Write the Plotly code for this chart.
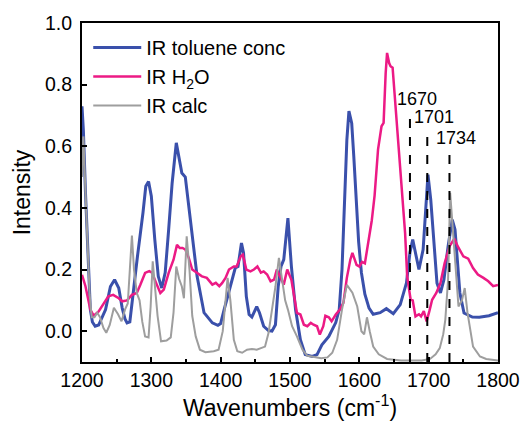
import plotly.graph_objects as go

# ---------------- data ----------------
tol_x = [1200, 1202, 1205, 1207, 1210, 1212, 1215, 1219, 1224, 1229, 1234, 1241, 1247, 1253, 1258, 1262, 1265, 1269,
         1273, 1280, 1288, 1292, 1296, 1300, 1305, 1310, 1315, 1320, 1325, 1330, 1336, 1340, 1344, 1349, 1354, 1359,
         1366, 1376, 1388, 1396, 1400, 1405, 1412, 1417, 1421, 1425, 1430, 1433, 1437, 1441, 1445, 1452, 1456, 1462,
         1469, 1474, 1479, 1483, 1487, 1491, 1497, 1502, 1508, 1515, 1522, 1532, 1539, 1546, 1556, 1566, 1571, 1575,
         1578, 1582, 1585, 1589, 1592, 1595, 1599, 1603, 1608, 1614, 1620, 1630, 1639, 1649, 1659, 1668, 1673, 1677,
         1682, 1686, 1692, 1696, 1699, 1703, 1708, 1712, 1717, 1722, 1728, 1734, 1738, 1741, 1745, 1751, 1763, 1773,
         1787, 1800]
tol_y = [0.73, 0.65, 0.45, 0.33, 0.15, 0.07, 0.03, 0.016, 0.02, 0.045, 0.07, 0.145, 0.167, 0.14, 0.075, 0.04, 0.027, 0.03,
         0.11, 0.243, 0.385, 0.47, 0.486, 0.438, 0.297, 0.178, 0.14, 0.19, 0.33, 0.48, 0.611, 0.567, 0.513, 0.50, 0.405, 0.297,
         0.178, 0.06, 0.027, 0.019, 0.025, 0.07, 0.13, 0.173, 0.205, 0.21, 0.286, 0.254, 0.113, 0.054, 0.046, 0.08, 0.06, 0.016,
         0.002, 0.0, 0.021, 0.145, 0.21, 0.232, 0.367, 0.21, 0.07, -0.028, -0.076, -0.082, -0.076, -0.044, -0.017, 0.028, 0.07, 0.2,
         0.4, 0.62, 0.714, 0.675, 0.567, 0.43, 0.29, 0.19, 0.12, 0.075, 0.055, 0.06, 0.073, 0.057, 0.086, 0.157, 0.255, 0.297,
         0.243, 0.2, 0.265, 0.405, 0.508, 0.427, 0.275, 0.156, 0.124, 0.167, 0.275, 0.362, 0.33, 0.232, 0.124, 0.059, 0.046, 0.045,
         0.05, 0.06]

h2o_x = [1200, 1205, 1212, 1217, 1224, 1231, 1238, 1245, 1253, 1258, 1265, 1272, 1279, 1284, 1291, 1297, 1301, 1307, 1313,
         1318, 1325, 1332, 1337, 1341, 1345, 1349, 1354, 1359, 1366, 1373, 1380, 1388, 1393, 1398, 1402, 1407, 1412, 1419,
         1423, 1429, 1432, 1437, 1443, 1448, 1453, 1458, 1462, 1467, 1472, 1477, 1481, 1486, 1491, 1496, 1502, 1506, 1510,
         1515, 1520, 1525, 1530, 1534, 1539, 1543, 1548, 1551, 1556, 1560, 1566, 1572, 1577, 1582, 1587, 1590, 1596, 1600,
         1604, 1608, 1613, 1618, 1622, 1627, 1632, 1635, 1638, 1640, 1643, 1645, 1648, 1651, 1656, 1661, 1666, 1669, 1674,
         1677, 1681, 1686, 1689, 1693, 1697, 1701, 1705, 1711, 1717, 1723, 1730, 1737, 1742, 1750, 1757, 1764, 1771, 1779,
         1786, 1793, 1800]
h2o_y = [0.183, 0.146, 0.07, 0.05, 0.064, 0.09, 0.113, 0.118, 0.107, 0.097, 0.1, 0.118, 0.124, 0.15, 0.189, 0.195, 0.19, 0.156, 0.124,
         0.135, 0.189, 0.232, 0.28, 0.27, 0.27, 0.265, 0.238, 0.2, 0.189, 0.178, 0.173, 0.151, 0.157, 0.146, 0.156, 0.173, 0.2, 0.21,
         0.21, 0.243, 0.248, 0.2, 0.194, 0.2, 0.21, 0.19, 0.194, 0.184, 0.162, 0.167, 0.2, 0.178, 0.151, 0.2, 0.167, 0.113, 0.059,
         0.054, 0.021, 0.016, 0.027, 0.021, 0.016, -0.011, 0.016, 0.05, 0.045, 0.032, 0.054, 0.07, 0.092, 0.173, 0.232, 0.254, 0.215, 0.21,
         0.225, 0.22, 0.286, 0.36, 0.44, 0.59, 0.665, 0.676, 0.838, 0.903, 0.87, 0.86, 0.855, 0.762, 0.62, 0.46, 0.319, 0.178, 0.102,
         0.1, 0.048, 0.055, 0.048, 0.065, 0.032, 0.065, 0.102, 0.124, 0.156, 0.22, 0.275, 0.3, 0.275, 0.243, 0.235, 0.205, 0.184, 0.173,
         0.162, 0.146, 0.15]

calc_x = [1200, 1202, 1205, 1208, 1211, 1214, 1218, 1222, 1226, 1231, 1235, 1240, 1243, 1246, 1252, 1257, 1262, 1266, 1269,
          1272, 1275, 1279, 1283, 1287, 1291, 1296, 1299, 1302, 1305, 1309, 1314, 1322, 1328, 1332, 1336, 1340, 1344, 1347,
          1351, 1355, 1359, 1364, 1370, 1378, 1390, 1397, 1403, 1407, 1410, 1414, 1419, 1424, 1431, 1438, 1445, 1452, 1457,
          1464, 1469, 1474, 1479, 1484, 1489, 1493, 1497, 1503, 1510, 1518, 1525, 1535, 1545, 1554, 1561, 1568, 1575, 1582,
          1590, 1597, 1603, 1607, 1611, 1615, 1620, 1628, 1640, 1660, 1690, 1702, 1710, 1716, 1721, 1724, 1728, 1731, 1735,
          1739, 1743, 1748, 1752, 1756, 1760, 1764, 1774, 1783, 1800]
calc_y = [0.5, 0.632, 0.45, 0.25, 0.12, 0.045, 0.045, 0.06, 0.045, 0.01, -0.005, 0.02, 0.05, 0.076, 0.055, 0.032, 0.07, 0.09, 0.2,
          0.31, 0.2, 0.124, 0.1, 0.03, -0.017, -0.02, 0.08, 0.227, 0.15, 0.05, -0.033, -0.03, -0.02, 0.06, 0.21, 0.17, 0.145, 0.107,
          0.308, 0.2, 0.05, -0.017, -0.06, -0.068, -0.065, -0.06, 0.0, 0.1, 0.173, 0.1, -0.028, -0.065, -0.07, -0.06, -0.058, -0.06, -0.055,
          -0.05, -0.006, 0.07, 0.145, 0.238, 0.167, 0.1, 0.07, 0.016, -0.017, -0.06, -0.08, -0.085, -0.088, -0.085, -0.07, -0.028, 0.07, 0.15,
          0.125, 0.08, 0.0, -0.01, 0.045, 0.0, -0.05, -0.075, -0.09, -0.095, -0.095, -0.09, -0.075, -0.055, -0.01, 0.037, 0.167, 0.449, 0.33,
          0.2, 0.08, 0.1, 0.14, 0.06, 0.0, -0.05, -0.082, -0.09, -0.095]

series_names = ["IR toluene conc", "IR H<sub>2</sub>O", "IR calc"]

mark_x = [1673, 1698, 1730]          # dashed marker lines (wavenumber)
mark_top = [0.705, 0.643, 0.595]     # top of each dashed line (intensity)
mark_labels = ["1670", "1701", "1734"]

x_ticks = [1200, 1300, 1400, 1500, 1600, 1700, 1800]
y_ticks = [0.0, 0.2, 0.4, 0.6, 0.8, 1.0]

# label offsets (pixels) relative to the top of each dashed line
label_dy = [15, 16, 10]

# ---------------- figure ----------------
FONT = "Arial, Liberation Sans, sans-serif"
fig = go.Figure()
fig.add_trace(go.Scatter(x=tol_x, y=tol_y, mode="lines", name=series_names[0],
                         line=dict(color="#3a50ab", width=3)))
fig.add_trace(go.Scatter(x=h2o_x, y=h2o_y, mode="lines", name=series_names[1],
                         line=dict(color="#ec1a85", width=2.5)))
fig.add_trace(go.Scatter(x=calc_x, y=calc_y, mode="lines", name=series_names[2],
                         line=dict(color="#9e9e9e", width=2)))

for xv, top, lab, dy in zip(mark_x, mark_top, mark_labels, label_dy):
    fig.add_shape(type="line", xref="x", yref="y", x0=xv, x1=xv, y0=-0.1, y1=top,
                  line=dict(color="black", width=2, dash="dash"), layer="above")
    fig.add_annotation(x=xv, y=top, xref="x", yref="y", text=lab, showarrow=False,
                       xanchor="left", yanchor="middle", xshift=-15, yshift=dy,
                       font=dict(family=FONT, size=18, color="black"))

axis_common = dict(showline=True, linecolor="black", linewidth=2, mirror=True,
                   ticks="inside", tickcolor="black", tickwidth=2, ticklen=5,
                   showgrid=False, zeroline=False,
                   tickfont=dict(family=FONT, size=19.5, color="black"))

fig.update_xaxes(range=[1200, 1800], tickvals=x_ticks,
                 minor=dict(ticks="inside", dtick=50, ticklen=3, tickwidth=2, tickcolor="black"),
                 title=dict(text="Wavenumbers (cm<sup>-1</sup>)", font=dict(family=FONT, size=23, color="black"),
                            standoff=6),
                 **axis_common)
fig.update_yaxes(range=[-0.1, 1.0], tickvals=y_ticks, tickformat=".1f",
                 title=dict(text="Intensity", font=dict(family=FONT, size=23, color="black"), standoff=8),
                 ticklabelstandoff=4,
                 **axis_common)

fig.update_layout(
    width=531, height=423,
    margin=dict(l=82, r=33, t=23, b=61, autoexpand=False),
    paper_bgcolor="white", plot_bgcolor="white",
    showlegend=True,
    legend=dict(x=0.015, y=0.985, xanchor="left", yanchor="top", bgcolor="rgba(0,0,0,0)",
                font=dict(family=FONT, size=20, color="black"), itemwidth=48, tracegroupgap=0),
    font=dict(family=FONT, color="black"),
)

fig.write_html("out.html", config={"displayModeBar": False},
               post_script="document.body.style.margin='0';document.body.style.overflow='hidden';")
